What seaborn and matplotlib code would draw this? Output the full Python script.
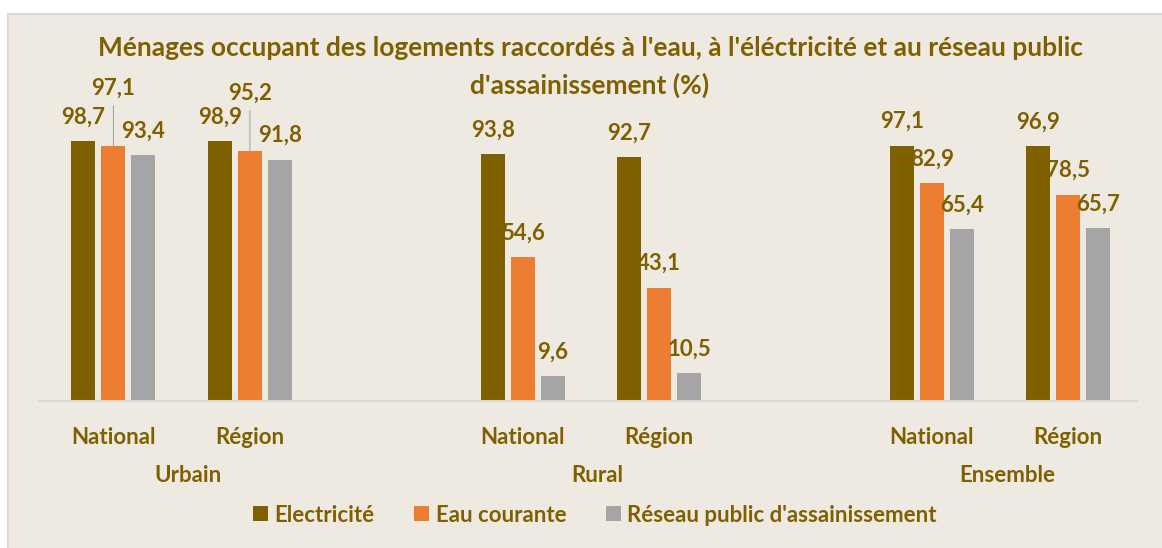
import pandas as pd
import matplotlib.pyplot as plt
import seaborn as sns
from matplotlib.patches import Rectangle

# valeurs (%)
zones = ['Urbain', 'Rural', 'Ensemble']
niveaux = ['National', 'Région']
series = ['Electricité', 'Eau courante', "Réseau public d'assainissement"]
electricite = [98.7, 98.9, 93.8, 92.7, 97.1, 96.9]
eau_courante = [97.1, 95.2, 54.6, 43.1, 82.9, 78.5]
reseau = [93.4, 91.8, 9.6, 10.5, 65.4, 65.7]

couleurs = ['#7F6000', '#ED7D31', '#A5A5A5']
texte = '#7F6000'
fond = '#EEEAE1'
titre_l1 = "Ménages occupant des logements raccordés à l'eau, à l'éléctricité et au réseau public"
titre_l2 = "d'assainissement (%)"

# position sur l'axe : un vide entre chaque zone
pos = [3 * i + j for i in range(len(zones)) for j in range(len(niveaux))]
rows = []
for nom, vals in zip(series, [electricite, eau_courante, reseau]):
    for p, v in zip(pos, vals):
        rows.append({'pos': p, 'serie': nom, 'valeur': v})
df = pd.DataFrame(rows)

sns.set_theme(style='white')
plt.rcParams['font.family'] = ['Lato', 'DejaVu Sans']
plt.rcParams['font.weight'] = 'bold'

W, H = 1162, 548
fig = plt.figure(figsize=(W / 100, H / 100), dpi=100)
fig.patch.set_facecolor('white')
fig.patches.append(Rectangle((8 / W, -0.01), 1.0, 1 - 14 / H + 0.01, transform=fig.transFigure,
                             facecolor=fond, edgecolor='#D9D9D9', lw=1.5, zorder=-1))
ax = fig.add_axes([39 / W, 147 / H, 1098 / W, 289.3 / H])
ax.patch.set_alpha(0)

sns.barplot(data=df, x='pos', y='valeur', hue='serie', hue_order=series, palette=couleurs,
            native_scale=True, width=0.66, gap=0.2, saturation=1, errorbar=None,
            linewidth=0, ax=ax)

ax.set_xlim(-0.546, 7.504)
ax.set_ylim(0, 110)
ax.set_yticks([])
ax.set_xlabel('')
ax.set_ylabel('')
sns.despine(ax=ax, left=True)
ax.spines['bottom'].set_color('#D9D9D9')
ax.spines['bottom'].set_linewidth(1.5)

ax.set_xticks(pos, labels=niveaux * len(zones))
ax.tick_params(axis='x', length=0, pad=19, labelsize=16, labelcolor=texte)

# étiquettes de données (deux sont remontées avec un trait de rappel)
raised = {(0, 1), (1, 1)}
valeurs = [electricite, eau_courante, reseau]
for k, cont in enumerate(ax.containers):
    for j, bar in enumerate(cont):
        lab = f"{valeurs[k][j]:.1f}".replace('.', ',')
        x = bar.get_x() + bar.get_width() / 2
        h = bar.get_height()
        if (j, k) in raised:
            # trait de rappel dessiné à part, puis l'étiquette
            ax.annotate('', xy=(x, h), xytext=(0, 40), textcoords='offset pixels',
                        annotation_clip=False,
                        arrowprops=dict(arrowstyle='-', color='#A5A5A5', lw=0.8, shrinkA=0, shrinkB=0))
            ax.annotate(lab, xy=(x, h), xytext=(0, 57), textcoords='offset pixels',
                        ha='center', va='center', fontsize=16, color=texte, fontweight='bold',
                        annotation_clip=False)
        else:
            ax.annotate(lab, xy=(x, h), xytext=(0, 24), textcoords='offset pixels',
                        ha='center', va='center', fontsize=16, color=texte, fontweight='bold',
                        annotation_clip=False)

# libellés des zones
for i, z in enumerate(zones):
    xc = (pos[2 * i] + pos[2 * i + 1]) / 2 + 0.05
    ax.annotate(z, xy=(xc, 0), xytext=(0, -74), textcoords='offset pixels', ha='center', va='center',
                fontsize=16, color=texte, fontweight='bold', annotation_clip=False)

handles, labels = ax.get_legend_handles_labels()
if ax.get_legend() is not None:
    ax.get_legend().remove()
fig.legend(handles, labels, loc='center', bbox_to_anchor=(595 / W, 1 - 515 / H), ncol=3, frameon=False,
           fontsize=16, handlelength=0.65, handleheight=0.65, handletextpad=0.3, columnspacing=1.8,
           labelcolor=texte)

# titre sur deux lignes, chacune centrée
fig.text(590 / W, 1 - 48 / H, titre_l1, ha='center', va='center', fontsize=19, color=texte,
         fontweight='bold')
fig.text(590 / W, 1 - 85 / H, titre_l2, ha='center', va='center', fontsize=19, color=texte,
         fontweight='bold')

fig.savefig('out.png', dpi=100)
